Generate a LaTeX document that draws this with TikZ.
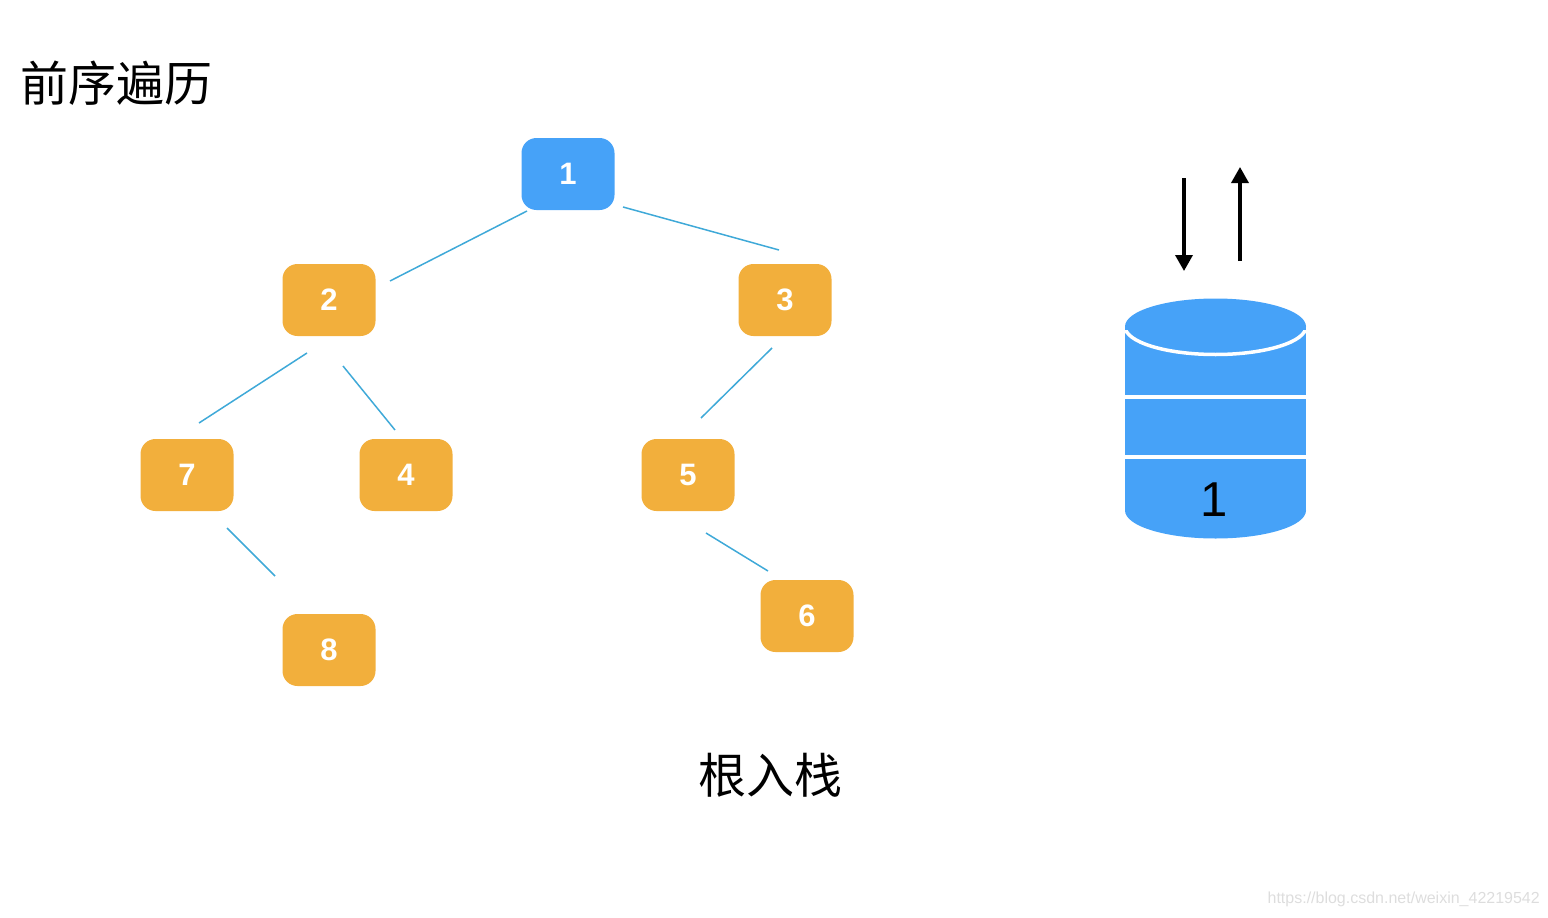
\documentclass[tikz,border=0pt]{standalone}
\usepackage{fontspec}
\setmainfont{Liberation Sans}
\newfontfamily\cjk{Noto Sans CJK SC}
\usetikzlibrary{arrows.meta}
\definecolor{nodeblue}{HTML}{46A2F8}
\definecolor{nodeorange}{HTML}{F2AF3C}
\definecolor{edgeblue}{HTML}{3FA9D8}
\definecolor{wmgray}{HTML}{DDDDDD}
\begin{document}
\begin{tikzpicture}[x=1pt,y=-1pt,
  treebox/.style={rounded corners=15pt, minimum width=93pt, minimum height=72pt, inner sep=0pt, text=white, font=\fontsize{31}{31}\selectfont\bfseries},
  bluebox/.style={treebox, fill=nodeblue},
  orangebox/.style={treebox, fill=nodeorange},
  treeedge/.style={draw=edgeblue, line width=1.5pt},
  stackarrow/.style={line width=3.5pt, -{Triangle[length=16pt,width=17pt]}},
  cjktext/.style={font=\cjk\fontsize{48}{48}\selectfont, inner sep=0pt},
  stripe/.style={draw=white, line width=4pt},
]
\useasboundingbox (0,0) rectangle (1548,918);

% title
\node[cjktext, anchor=west] (title) at (20,83) {前序遍历};
\node[cjktext] (caption) at (770,775) {根入栈};

% tree nodes
\node[bluebox]   (n1) at (568,174) {1};
\node[orangebox] (n2) at (329,300) {2};
\node[orangebox] (n3) at (785,300) {3};
\node[orangebox] (n7) at (187,475) {7};
\node[orangebox] (n4) at (406,475) {4};
\node[orangebox] (n5) at (688,475) {5};
\node[orangebox] (n8) at (329,650) {8};
\node[orangebox] (n6) at (807,616) {6};

% edge end points
\coordinate (e12a) at (527,211); \coordinate (e12b) at (390,281);
\coordinate (e13a) at (623,207); \coordinate (e13b) at (779,250);
\coordinate (e27a) at (307,353); \coordinate (e27b) at (199,423);
\coordinate (e24a) at (343,366); \coordinate (e24b) at (395,430);
\coordinate (e35a) at (772,348); \coordinate (e35b) at (701,418);
\coordinate (e78a) at (227,528); \coordinate (e78b) at (275,576);
\coordinate (e56a) at (706,533); \coordinate (e56b) at (768,571);

\draw[treeedge] (e12a) -- (e12b);
\draw[treeedge] (e13a) -- (e13b);
\draw[treeedge] (e27a) -- (e27b);
\draw[treeedge] (e24a) -- (e24b);
\draw[treeedge] (e35a) -- (e35b);
\draw[treeedge] (e78a) -- (e78b);
\draw[treeedge] (e56a) -- (e56b);

% stack (cylinder)
\fill[nodeblue] (1125,326.5) rectangle (1306,510.5);
\fill[nodeblue] (1215.5,510.5) ellipse [x radius=90.5, y radius=28];
\fill[nodeblue] (1215.5,326.5) ellipse [x radius=90.5, y radius=28];
\begin{scope}
  \clip (1120,330) rectangle (1311,362);
  \draw[white, line width=3.5pt] (1215.5,326.5) ellipse [x radius=90.5, y radius=28];
\end{scope}
\draw[stripe] (1125,397) -- (1306,397);
\draw[stripe] (1125,457) -- (1306,457);
\node[font=\fontsize{49}{49}\selectfont, inner sep=0pt] (stacktop) at (1214,500) {1};

% push / pop arrows
\coordinate (pushS) at (1184,178); \coordinate (pushE) at (1184,271);
\coordinate (popS) at (1240,261);  \coordinate (popE) at (1240,167);
\draw[stackarrow] (pushS) -- (pushE);
\draw[stackarrow] (popS) -- (popE);

% watermark
\node[font=\fontsize{16}{16}\selectfont, text=wmgray, anchor=east, inner sep=0pt] (wm) at (1540,899) {https://blog.csdn.net/weixin\_42219542};
\end{tikzpicture}
\end{document}
